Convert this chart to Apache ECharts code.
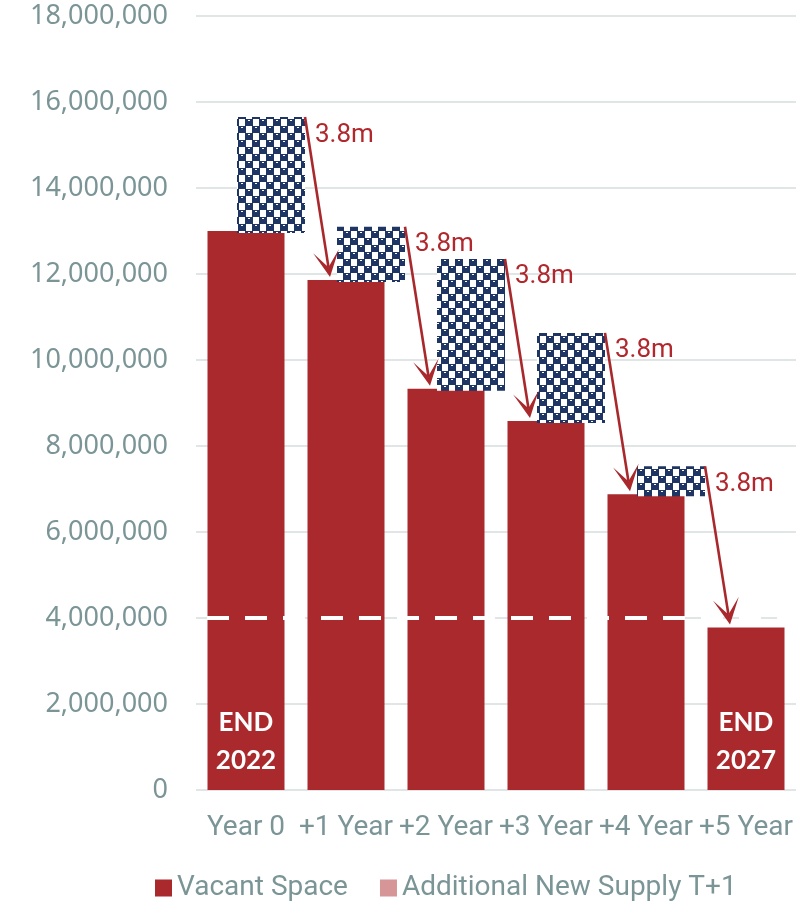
<!DOCTYPE html>
<html>
<head>
<meta charset="utf-8">
<script src="https://cdn.jsdelivr.net/npm/echarts@6/dist/echarts.min.js"></script>
<style>
  html, body { margin: 0; padding: 0; background: #ffffff; }
  #chart { width: 802px; height: 909px; }
</style>
</head>
<body>
<div id="chart"></div>
<script>
// Vacant floor space by year, with the new supply added on top of each year
const categories = ['Year 0', '+1 Year', '+2 Year', '+3 Year', '+4 Year', '+5 Year'];
const vacantSpace = [13000000, 11860000, 9330000, 8580000, 6880000, 3780000];
const newSupply = [2650000, 1240000, 3020000, 2050000, 650000];
const barNotes = ['END\n2022', '', '', '', '', 'END\n2027'];
const thresholdLevel = 4000000;
const yMin = 0, yMax = 18000000, yStep = 2000000;

const RED = '#a9292d';
const NAVY = '#1f3564';
const GREY_TEXT = '#7b9597';
const GRID = '#e0e6e6';

// checker tile used as the fill of the supply blocks
function makeTile() {
  const c = document.createElement('canvas');
  c.width = 14; c.height = 14;
  const g = c.getContext('2d');
  g.fillStyle = '#ffffff';
  g.fillRect(0, 0, 14, 14);
  g.fillStyle = NAVY;
  g.fillRect(0, 0, 8, 7);
  g.fillRect(7, 7, 7, 7);
  g.fillRect(0, 7, 1, 7);
  g.fillStyle = '#ffffff';
  g.fillRect(3, 1, 2, 1);
  g.fillRect(10, 8, 2, 1);
  return c;
}
const tile = makeTile();

const chart = echarts.init(document.getElementById('chart'), null, { renderer: 'canvas' });

const vacantData = vacantSpace.map((v, i) => ({
  value: v,
  label: {
    show: barNotes[i] !== '',
    formatter: barNotes[i],
    position: 'insideBottom',
    distance: 10,
    color: '#ffffff',
    fontFamily: 'Lato',
    fontWeight: 'bold',
    fontSize: 26,
    lineHeight: 38,
    align: 'center'
  }
}));

const supplyData = newSupply.map((v, i) => [i, vacantSpace[i], vacantSpace[i] + v]);
const arrowData = newSupply.map((v, i) => [i, vacantSpace[i] + v, vacantSpace[i + 1]]);

chart.setOption({
  animation: false,
  grid: { left: 196, right: 6, top: 16, bottom: 119, containLabel: false },
  legend: {
    left: 155,
    top: 874,
    padding: 0,
    icon: 'rect',
    itemWidth: 17,
    itemHeight: 17,
    itemGap: 32,
    textStyle: { color: GREY_TEXT, fontFamily: 'Roboto', fontSize: 28 },
    data: [
      { name: 'Vacant Space', itemStyle: { color: RED } },
      { name: 'Additional New Supply T+1', itemStyle: { color: '#d69597' } }
    ]
  },
  xAxis: {
    type: 'category',
    data: categories,
    axisLine: { show: false },
    axisTick: { show: false },
    axisLabel: {
      interval: 0,
      margin: 24,
      color: GREY_TEXT,
      fontFamily: 'Roboto',
      fontSize: 28
    }
  },
  yAxis: {
    type: 'value',
    min: yMin,
    max: yMax,
    interval: yStep,
    axisLine: { show: false },
    axisTick: { show: false },
    splitLine: { lineStyle: { color: GRID, width: 2 } },
    axisLabel: {
      margin: 28,
      color: GREY_TEXT,
      fontFamily: 'Noto Sans',
      fontSize: 27,
      formatter: v => v.toLocaleString('en-US')
    }
  },
  series: [
    {
      name: 'Vacant Space',
      type: 'bar',
      barWidth: '77%',
      itemStyle: { color: RED },
      data: vacantData,
      z: 2,
      markLine: {
        silent: true,
        symbol: 'none',
        label: { show: false },
        lineStyle: { color: '#ffffff', width: 4, type: [22, 16], dashOffset: 27 },
        data: [{ yAxis: thresholdLevel }]
      }
    },
    {
      name: 'Additional New Supply T+1',
      type: 'custom',
      z: 3,
      data: supplyData,
      renderItem: function (params, api) {
        const i = api.value(0);
        const bw = api.size([1, 0])[0];
        const p0 = api.coord([i, api.value(1)]);
        const p1 = api.coord([i, api.value(2)]);
        const w = bw * 0.68;
        const cx = p0[0] + bw * 0.25;
        return {
          type: 'rect',
          shape: { x: cx - w / 2, y: p1[1], width: w, height: p0[1] - p1[1] + 2 },
          style: { fill: { image: tile, repeat: 'repeat' } }
        };
      }
    },
    {
      name: 'take-up',
      type: 'custom',
      z: 4,
      data: arrowData,
      renderItem: function (params, api) {
        const i = api.value(0);
        const bw = api.size([1, 0])[0];
        const s = api.coord([i, api.value(1)]);
        const e = api.coord([i + 1, api.value(2)]);
        const x1 = s[0] + bw * 0.59, y1 = s[1];
        const x2 = e[0] - bw * 0.16, y2 = e[1] - 3;
        const ang = Math.atan2(y2 - y1, x2 - x1);
        const ux = Math.cos(ang), uy = Math.sin(ang);
        const px = -uy, py = ux;
        const L = 26, H = 13, inner = 10;
        const bx = x2 - ux * L, by = y2 - uy * L;
        const ix = x2 - ux * inner, iy = y2 - uy * inner;
        const drop = ((api.value(1) - api.value(2)) / 1e6).toFixed(1) + 'm';
        return {
          type: 'group',
          children: [
            { type: 'line', shape: { x1: x1, y1: y1, x2: ix, y2: iy },
              style: { stroke: '#a8282c', lineWidth: 2.6 } },
            { type: 'polygon',
              shape: { points: [[x2, y2], [bx + px * H, by + py * H], [ix, iy], [bx - px * H, by - py * H]] },
              style: { fill: '#a8282c' } },
            { type: 'text',
              style: { x: x1 + 10, y: y1 + 18, text: drop, fill: '#b0282d',
                       fontFamily: 'Roboto', fontSize: 26, verticalAlign: 'middle', align: 'left' } }
          ]
        };
      }
    }
  ]
});
</script>
</body>
</html>
